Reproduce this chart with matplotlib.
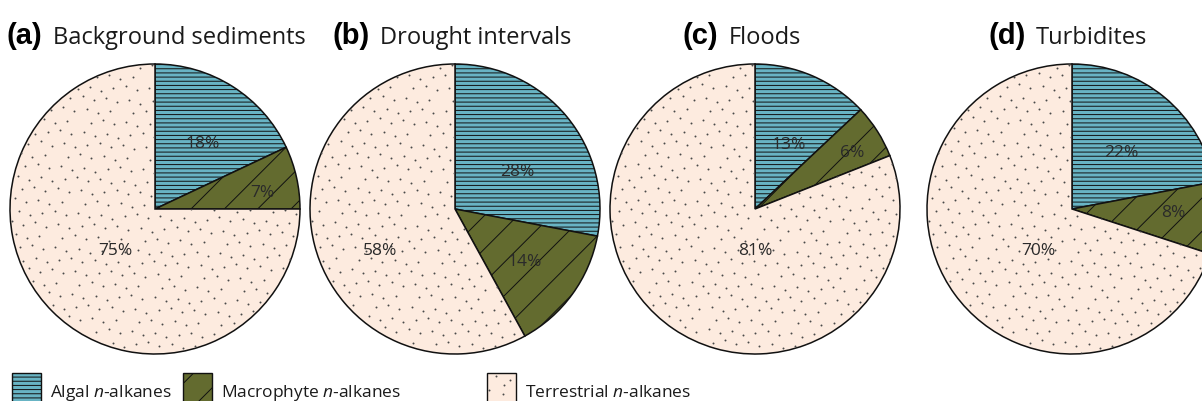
import matplotlib
matplotlib.use("Agg")
import numpy as np
import matplotlib.pyplot as plt
from matplotlib.patches import Rectangle

# n-alkane source contributions (%) per sediment type
panels = ['(a)', '(b)', '(c)', '(d)']
titles = ['Background sediments', 'Drought intervals', 'Floods', 'Turbidites']
sources = ['Algal', 'Macrophyte', 'Terrestrial']
algal = [18, 28, 13, 22]
macrophyte = [7, 14, 6, 8]
terrestrial = [75, 58, 81, 70]

# styling
colors = ['#68b4c4', '#636b2f', '#fdebdf']
hatches = ['----', '/', None]
W, H = 1202, 402
centers_x = [155, 455, 755, 1072]
center_y = 192
radius = 145
title_x = [7, 333, 683, 988]
title_y = 358
# label offsets as fractions of the radius (x, y), one triple per pie
label_pos = [
    [(0.33, 0.455), (0.74, 0.12), (-0.27, -0.28)],
    [(0.43, 0.26), (0.48, -0.36), (-0.52, -0.28)],
    [(0.23, 0.45), (0.67, 0.39), (0.0, -0.28)],
    [(0.34, 0.39), (0.70, -0.02), (-0.23, -0.28)],
]

plt.rcParams['font.family'] = ['Open Sans', 'DejaVu Sans']
plt.rcParams['mathtext.fontset'] = 'custom'
plt.rcParams['mathtext.it'] = 'Open Sans:italic'
plt.rcParams['mathtext.rm'] = 'Open Sans'
plt.rcParams['hatch.linewidth'] = 0.7

fig = plt.figure(figsize=(W / 100, H / 100), dpi=100)
ax = fig.add_axes([0, 0, 1, 1])


def stipple(patch, x0, y0, w, h, start, spacing=12.0):
    # sand-style stipple: R2 low-discrepancy points clipped to the patch
    n = int(w * h / spacing ** 2)
    k = np.arange(start, start + n)
    px = x0 + w * ((0.5 + k * 0.7548776662466927) % 1.0)
    py = y0 + h * ((0.5 + k * 0.5698402909980532) % 1.0)
    dots = ax.scatter(px, py, s=2.0, c='#4a4a4a', linewidths=0, zorder=patch.get_zorder() + 0.1)
    dots.set_clip_path(patch)


for i in range(4):
    vals = [algal[i], macrophyte[i], terrestrial[i]]
    wedges, _ = ax.pie(vals, colors=colors, startangle=90, counterclock=False,
                       center=(centers_x[i], center_y), radius=radius,
                       wedgeprops=dict(edgecolor='#111111', linewidth=1.1))
    for w, h in zip(wedges, hatches):
        if h:
            w.set_hatch(h)
    stipple(wedges[2], centers_x[i] - radius, center_y - radius, 2 * radius, 2 * radius, 37 * i + 5)
    for v, (fx, fy) in zip(vals, label_pos[i]):
        ax.text(centers_x[i] + fx * radius, center_y + fy * radius, f'{v}%',
                ha='center', va='center', fontsize=12.5, color='#2a2a2a', zorder=5)
    lab = ax.text(title_x[i], title_y, panels[i], fontsize=21, fontweight='bold',
                  family='Liberation Sans', va='baseline', ha='left')
    ax.annotate(titles[i], xy=(1, 0), xycoords=lab, xytext=(10, 0),
                textcoords='offset pixels', fontsize=17, va='bottom', ha='left',
                color='#1a1a1a')

# legend along the bottom edge
leg_x = [12, 183, 487]
leg_labels = ['Algal $\\it{n}$-alkanes', 'Macrophyte $\\it{n}$-alkanes',
              'Terrestrial $\\it{n}$-alkanes']
for j, (x, c, h, t) in enumerate(zip(leg_x, colors, hatches, leg_labels)):
    box = ax.add_patch(Rectangle((x, -4), 29, 32, facecolor=c, edgecolor='#111111',
                                 linewidth=1.0, hatch=h))
    if h is None:
        stipple(box, x, -4, 29, 32, 11)
    ax.text(x + 38, 5, t, fontsize=12.5, va='baseline', ha='left', color='#1a1a1a')

ax.set_xlim(0, W)
ax.set_ylim(0, H)
ax.set_aspect('auto')
ax.axis('off')

fig.savefig('out.png', dpi=100)
